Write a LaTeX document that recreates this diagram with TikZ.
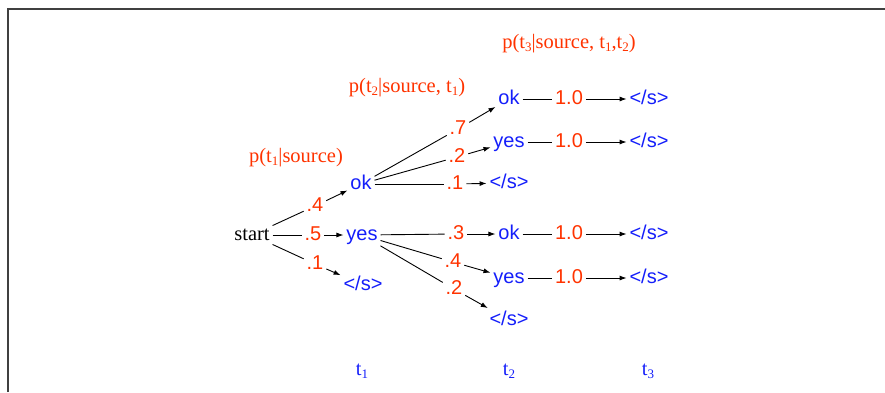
\documentclass[tikz,border=0pt]{standalone}
\usepackage{fontspec}
\setmainfont{Liberation Serif}
\setsansfont{Liberation Sans}
\usetikzlibrary{arrows.meta}
\definecolor{probred}{RGB}{255,51,0}
\definecolor{wordblue}{RGB}{20,30,250}
\newcommand{\lowix}[1]{\raisebox{-0.4ex}{\fontsize{13}{13}\selectfont #1}}
\tikzset{every picture/.style={line width=0.9pt}}
\tikzset{
  tok/.style={anchor=base, inner sep=2.5pt, text height=14pt, text depth=4pt},
  word/.style={tok, text=wordblue, font=\sffamily\fontsize{20}{23}\selectfont},
  prob/.style={tok, text=probred, font=\sffamily\fontsize{20}{23}\selectfont},
  root/.style={tok, font=\rmfamily\fontsize{20.5}{24}\selectfont},
  cond/.style={anchor=base, text=probred, font=\rmfamily\fontsize{20.5}{24}\selectfont},
  stage/.style={anchor=base, text=wordblue, font=\rmfamily\fontsize{20.5}{24}\selectfont},
  link/.style={draw=black},
  go/.style={link, -{Latex[length=7pt,width=5pt]}},
  frame/.style={draw=black!75, line width=1.8pt}
}

\begin{document}
\begin{tikzpicture}[x=1pt,y=-1pt]
\useasboundingbox (0,0) rectangle (885,392);
\draw[frame] (8,392) -- (8,9) -- (885,9);

% headings
\node[cond] (c1) at (296,162) {p(t\lowix{1}|source)};
\node[cond] (c2) at (407,92) {p(t\lowix{2}|source, t\lowix{1})};
\node[cond] (c3) at (569,48) {p(t\lowix{3}|source, t\lowix{1},t\lowix{2})};

% first step
\node[root] (start) at (252,240) {start};
\node[word] (ok1) at (361,189) {ok};
\node[word] (yes1) at (362,240) {yes};
\node[word] (end1) at (363,290) {</s>};
\node[prob] (p4) at (315,211) {.4};
\node[prob] (p5) at (313,240) {.5};
\node[prob] (p1) at (315,269) {.1};
\draw[link] (start) -- (p4);
\draw[go] (p4) -- (ok1);
\draw[link] (start) -- (p5);
\draw[go] (p5) -- (yes1);
\draw[link] (start) -- (p1);
\draw[go] (p1) -- (end1);

% second step after ok
\node[word] (ok2a) at (509,104) {ok};
\node[word] (yes2a) at (509,147) {yes};
\node[word] (end2a) at (509,188) {</s>};
\node[prob] (pa7) at (458,134) {.7};
\node[prob] (pa2) at (457,162) {.2};
\node[prob] (pa1) at (455,189) {.1};
\draw[link] (ok1) -- (pa7);
\draw[go] (pa7) -- (ok2a);
\draw[link] (ok1) -- (pa2);
\draw[go] (pa2) -- (yes2a);
\draw[link] (ok1) -- (pa1);
\draw[go] (pa1) -- (end2a);

% second step after yes
\node[word] (ok2b) at (509,239) {ok};
\node[word] (yes2b) at (509,283) {yes};
\node[word] (end2b) at (509,325) {</s>};
\node[prob] (pb3) at (456,239) {.3};
\node[prob] (pb4) at (453,267) {.4};
\node[prob] (pb2) at (454,294) {.2};
\draw[link] (yes1) -- (pb3);
\draw[go] (pb3) -- (ok2b);
\draw[link] (yes1) -- (pb4);
\draw[go] (pb4) -- (yes2b);
\draw[link] (yes1) -- (pb2);
\draw[go] (pb2) -- (end2b);

% third step
\foreach \src/\y/\k in {ok2a/104/a, yes2a/147/b, ok2b/239/c, yes2b/283/d}{
  \node[prob] (q\k) at (569,\y) {1.0};
  \node[word] (end3\k) at (649,\y) {</s>};
  \draw[link] (\src) -- (q\k);
  \draw[go] (q\k) -- (end3\k);
}

% steps
\node[stage] (t1) at (362,375) {t\lowix{1}};
\node[stage] (t2) at (509,375) {t\lowix{2}};
\node[stage] (t3) at (648,375) {t\lowix{3}};
\end{tikzpicture}
\end{document}
